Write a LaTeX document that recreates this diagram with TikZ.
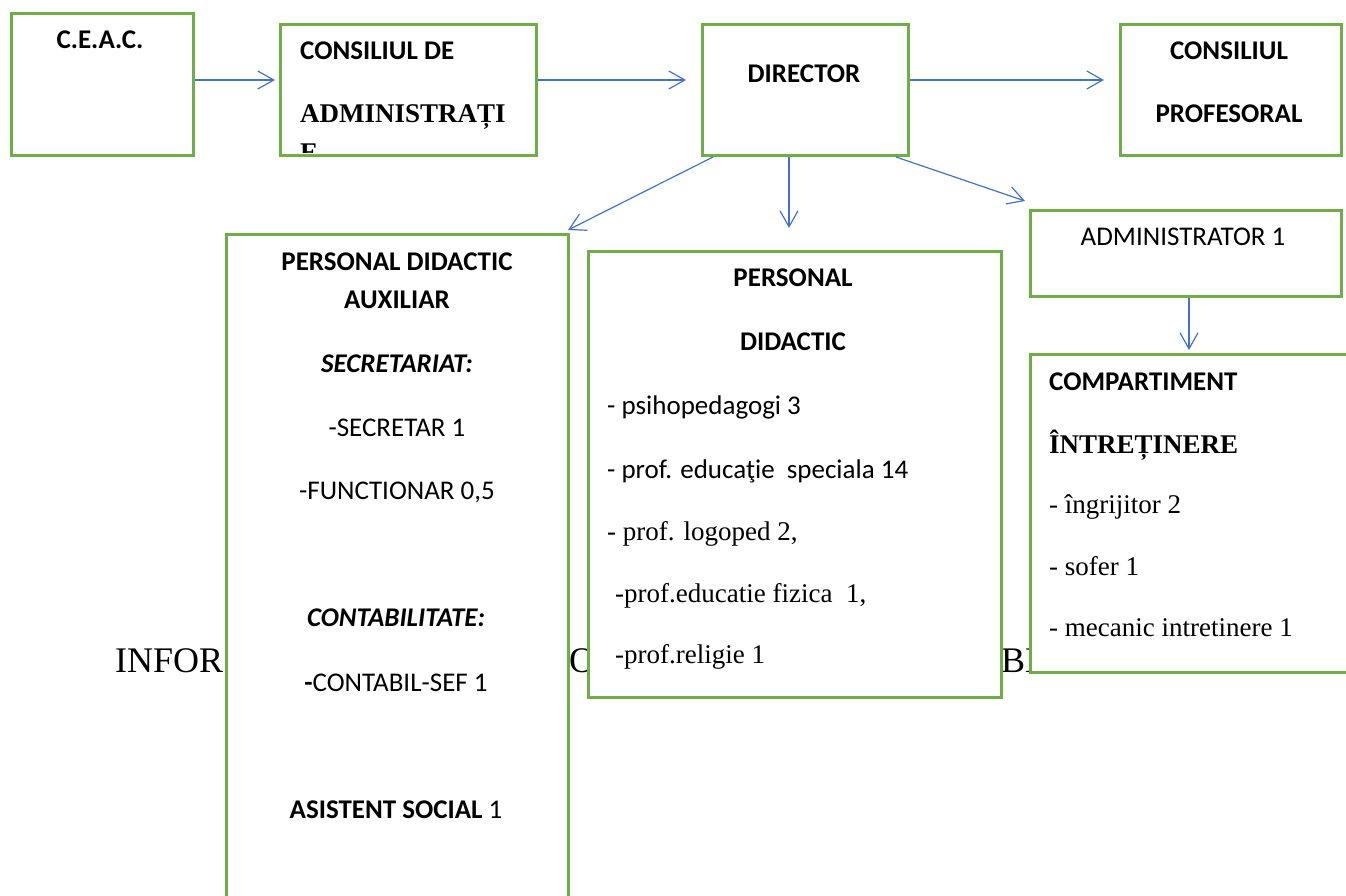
\documentclass[tikz,border=0pt]{standalone}
\usepackage{fontspec}
\setmainfont{Liberation Serif}
\newfontfamily\calfont{Carlito}
\usetikzlibrary{arrows.meta}
\definecolor{boxgreen}{HTML}{70AD47}
\definecolor{arrblue}{HTML}{4472C4}
\tikzset{
  box/.style={draw=boxgreen, line width=3pt, fill=white, inner sep=0pt, anchor=north west},
  arr/.style={draw=arrblue, line width=1.2pt, -{Straight Barb[length=16pt,width=18pt,line width=1.2pt]}},
  cb/.style={font=\calfont\bfseries\fontsize{27}{30}\selectfont, inner sep=0pt, anchor=base},
  cr/.style={font=\calfont\fontsize{27}{30}\selectfont, inner sep=0pt, anchor=base},
  cbi/.style={font=\calfont\bfseries\itshape\fontsize{27}{30}\selectfont, inner sep=0pt, anchor=base},
  tb/.style={font=\bfseries\fontsize{27}{30}\selectfont, inner sep=0pt, anchor=base},
  tr/.style={font=\fontsize{27}{30}\selectfont, inner sep=0pt, anchor=base},
  bg/.style={font=\fontsize{36}{40}\selectfont, inner sep=0pt, anchor=base west},
}
\begin{document}
\begin{tikzpicture}[x=1pt,y=-1pt]
\useasboundingbox (0,0) rectangle (1346,895);
% background text, partly hidden by the boxes
\node[bg] (bg1) at (115,672) {INFOR};
\node[bg] (bg2) at (545,672) {RO};
\node[bg] (bg3) at (1001,672) {BL};
% boxes
\node[box, minimum width=182pt, minimum height=142pt] (ceac) at (10,12) {};
\node[box, minimum width=256pt, minimum height=131pt] (cda) at (279,23) {};
\node[box, minimum width=206pt, minimum height=131pt] (dir) at (701,23) {};
\node[box, minimum width=221pt, minimum height=131pt] (cp) at (1119,23) {};
\node[box, minimum width=342pt, minimum height=677pt] (aux) at (225,233) {};
\node[box, minimum width=413pt, minimum height=446pt] (pd) at (587,250) {};
\node[box, minimum width=311pt, minimum height=86pt] (adm) at (1029,209) {};
\node[box, minimum width=331pt, minimum height=318pt] (comp) at (1029,353) {};
% texts
\node[cb] (t-ceac) at (100,48) {C.E.A.C.};
\node[cb, anchor=base west] (t-cda1) at (300,59) {CONSILIUL DE};
\node[tb, anchor=base west] (t-cda2) at (300,122) {ADMINISTRAȚI};
\begin{scope}
  \clip (281,25) rectangle (533,152);
  \node[tb, anchor=base west] (t-cda3) at (300,161) {E};
\end{scope}
\node[cb] (t-dir) at (804,82) {DIRECTOR};
\node[cb] (t-cp1) at (1229,59) {CONSILIUL};
\node[cb] (t-cp2) at (1229,122) {PROFESORAL};
% auxiliar
\node[cb] (x1) at (397,270) {PERSONAL DIDACTIC};
\node[cb] (x2) at (397,308) {AUXILIAR};
\node[cbi] (x3) at (397,372) {SECRETARIAT:};
\node[cr] (x4) at (397,436) {-SECRETAR 1};
\node[cr] (x5) at (397,499) {-FUNCTIONAR 0,5};
\node[cbi] (x6) at (396,626) {CONTABILITATE:};
\node[cr] (x7) at (396,691) {\textbf{-}CONTABIL-SEF 1};
\node[cr] (x8) at (396,818) {\textbf{ASISTENT SOCIAL} 1};
% personal didactic
\node[cb] (p1) at (793,286) {PERSONAL};
\node[cb] (p2) at (793,350) {DIDACTIC};
\node[cr, anchor=base west] (p3) at (607,414) {- psihopedagogi 3};
\node[cr, anchor=base west] (p4) at (607,478) {- prof. educaţie\ \ speciala 14};
\node[tr, anchor=base west] (p5) at (607,540) {- prof. logoped 2,};
\node[tr, anchor=base west] (p6) at (615,602) {-prof.educatie fizica\ \ 1,};
\node[tr, anchor=base west] (p7) at (615,663) {-prof.religie 1};
% administrator
\node[cr] (a1) at (1183,245) {ADMINISTRATOR 1};
% compartiment
\node[cb, anchor=base west] (c1) at (1049,390) {COMPARTIMENT};
\node[tb, anchor=base west] (c2) at (1049,453) {ÎNTREȚINERE};
\node[tr, anchor=base west] (c3) at (1049,513) {- îngrijitor 2};
\node[tr, anchor=base west] (c4) at (1049,575) {- sofer 1};
\node[tr, anchor=base west] (c5) at (1049,636) {- mecanic intretinere 1};
% arrow tips
\coordinate (e1) at (275,80);
\coordinate (e2) at (686,80);
\coordinate (e3) at (1104,80);
\coordinate (e4) at (568,230);
\coordinate (e5) at (789,228);
\coordinate (e6) at (1025,201);
\coordinate (e7) at (1189,350);
% connectors
\draw[arr] (ceac.east |- e1) -- (e1);
\draw[arr] (cda.east |- e2) -- (e2);
\draw[arr] (dir.east |- e3) -- (e3);
\draw[arr] ([xshift=12pt]dir.south west) -- (e4);
\draw[arr] (dir.south -| e5) -- (e5);
\draw[arr] ([xshift=-14pt]dir.south east) -- (e6);
\draw[arr] (adm.south -| e7) -- (e7);
\end{tikzpicture}
\end{document}
